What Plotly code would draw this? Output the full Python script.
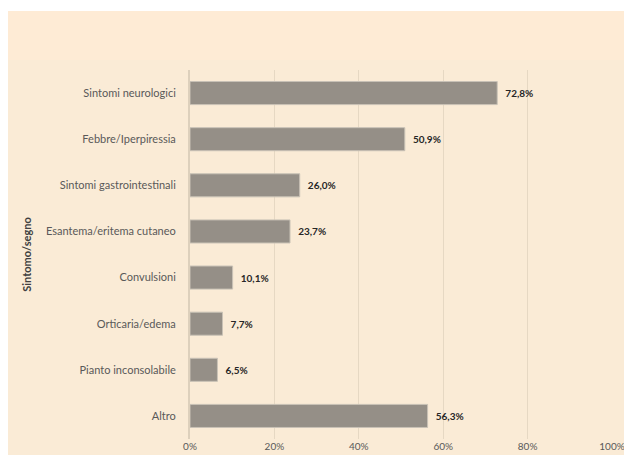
import plotly.graph_objects as go

categories = [
    "Sintomi neurologici",
    "Febbre/Iperpiressia",
    "Sintomi gastrointestinali",
    "Esantema/eritema cutaneo",
    "Convulsioni",
    "Orticaria/edema",
    "Pianto inconsolabile",
    "Altro",
]
values = [72.8, 50.9, 26.0, 23.7, 10.1, 7.7, 6.5, 56.3]
value_labels = ["72,8%", "50,9%", "26,0%", "23,7%", "10,1%", "7,7%", "6,5%", "56,3%"]
tick_vals = [0, 20, 40, 60, 80, 100]
tick_text = ["0%", "20%", "40%", "60%", "80%", "100%"]

BG = "#FAEBD6"
BG_TOP = "#FEEBD5"
FONT = "Lato"

W, H = 616, 447
L, R, T, B = 182, 12, 62, 16
PH = H - T - B


def py(fy):
    return (H - B - fy) / PH


fig = go.Figure()
fig.add_trace(go.Bar(
    y=categories,
    x=values,
    orientation="h",
    marker=dict(color="#958F87", line=dict(color="#C9C2B6", width=1)),
    text=["  <b>" + t + "</b>" for t in value_labels],
    textposition="outside",
    textfont=dict(family=FONT, size=10, color="#262626"),
    cliponaxis=False,
    hoverinfo="skip",
))

fig.update_layout(
    width=W,
    height=H,
    margin=dict(l=L, r=R, t=T, b=B, autoexpand=False),
    paper_bgcolor=BG,
    plot_bgcolor="rgba(0,0,0,0)",
    bargap=0.5,
    showlegend=False,
    font=dict(family=FONT, size=11, color="#595959"),
    shapes=[
        dict(type="rect", xref="paper", yref="paper",
             x0=-1, x1=2, y0=py(52), y1=py(3),
             fillcolor=BG_TOP, line=dict(width=0), layer="below"),
        dict(type="rect", xref="paper", yref="paper",
             x0=-1, x1=2, y0=py(3), y1=py(-5),
             fillcolor="white", line=dict(width=0), layer="below"),
    ],
    xaxis=dict(
        range=[0, 100],
        tickvals=tick_vals,
        ticktext=tick_text,
        showgrid=True,
        gridcolor="#E6D8C3",
        gridwidth=1,
        zeroline=False,
        showline=False,
        ticks="",
        ticklabeloverflow="allow",
        tickfont=dict(family=FONT, size=10, color="#595959"),
        automargin=False,
        fixedrange=True,
    ),
    yaxis=dict(
        autorange="reversed",
        showgrid=False,
        showline=True,
        linecolor="#DDD0BC",
        linewidth=2,
        ticks="outside",
        ticklen=10,
        tickcolor="rgba(0,0,0,0)",
        tickfont=dict(family=FONT, size=11, color="#595959"),
        title=dict(
            text="<b>Sintomo/segno</b>",
            font=dict(family=FONT, size=11, color="#404040"),
            standoff=12,
        ),
        automargin=False,
        fixedrange=True,
    ),
)

fig.write_html("out.html")
